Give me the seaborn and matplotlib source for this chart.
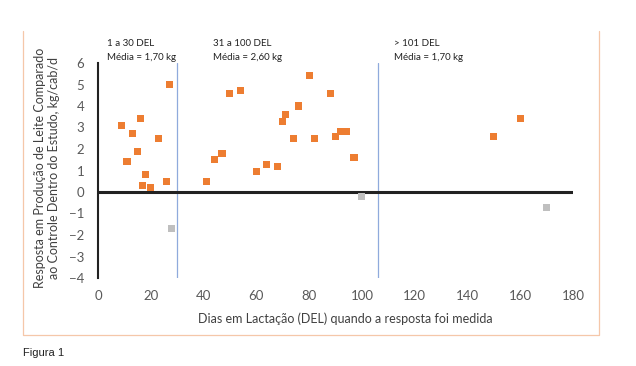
import pandas as pd
import numpy as np
import matplotlib.pyplot as plt
import seaborn as sns
from matplotlib.lines import Line2D

# days in lactation (DEL) and response, kg/cow/day
del_pos = [9, 11, 13, 15, 16, 17, 18, 20, 23, 26, 27,
           41, 44, 47, 50, 54, 60, 64, 68, 70, 71, 74, 76, 80, 82, 88, 90, 92, 94, 97,
           150, 160]
resp_pos = [3.1, 1.4, 2.7, 1.9, 3.4, 0.3, 0.8, 0.2, 2.5, 0.5, 5.0,
            0.5, 1.5, 1.8, 4.6, 4.7, 0.95, 1.3, 1.2, 3.3, 3.6, 2.5, 4.0, 5.4, 2.5, 4.6, 2.6, 2.8, 2.8, 1.6,
            2.6, 3.4]
del_neg = [28, 100, 170]
resp_neg = [-1.7, -0.2, -0.7]

limits = [30, 106]
notes = [("1 a 30 DEL", "Média = 1,70 kg"),
         ("31 a 100 DEL", "Média = 2,60 kg"),
         ("> 101 DEL", "Média = 1,70 kg")]
note_x = [3.3, 43.4, 112]

df = pd.DataFrame({
    "del": del_pos + del_neg,
    "resp": resp_pos + resp_neg,
    "grupo": ["pos"] * len(del_pos) + ["neg"] * len(del_neg),
})

sns.set_style("white")
plt.rcParams["font.family"] = ["Lato", "DejaVu Sans"]

fig = plt.figure(figsize=(6.36, 3.66), dpi=100)
ax = fig.add_axes([98 / 636, 1 - 278 / 366, 475 / 636, 215 / 366])

for x in limits:
    ax.plot([x, x], [-4, 6], color="#8FAADC", lw=0.9, zorder=1)
ax.axhline(0, color="#222222", lw=2.2, zorder=2)

sns.scatterplot(data=df, x="del", y="resp", hue="grupo",
                palette={"pos": "#ED7D31", "neg": "#BFBFBF"},
                marker="s", s=26, edgecolor="none", legend=False, ax=ax, zorder=3)

ax.set_xlim(0, 180)
ax.set_ylim(-4, 6)
ax.set_xticks(np.arange(0, 181, 20))
ax.set_yticks(np.arange(-4, 7, 1))
for s in ["top", "right", "bottom"]:
    ax.spines[s].set_visible(False)
ax.spines["left"].set_color("#222222")
ax.spines["left"].set_linewidth(1.5)
ax.tick_params(axis="x", length=0, pad=9, labelsize=9.5, labelcolor="#595959")
ax.tick_params(axis="y", length=0, pad=10, labelsize=9.5, labelcolor="#595959")
ax.set_xlabel("")
ax.set_ylabel("")

fig.text(345 / 636, 1 - 319 / 366, "Dias em Lactação (DEL) quando a resposta foi medida",
         ha="center", va="center", fontsize=9, color="#404040")
fig.text(47 / 636, 1 - 168 / 366,
         "Resposta em Produção de Leite Comparado\nao Controle Dentro do Estudo, kg/cab/d",
         ha="center", va="center", rotation=90, fontsize=9, color="#404040",
         linespacing=1.15)

for (l1, l2), x in zip(notes, note_x):
    ax.text(x, 6.92, l1, fontsize=7, color="#222222", va="center", clip_on=False)
    ax.text(x, 6.27, l2, fontsize=7, color="#222222", va="center", clip_on=False)

# chart frame (top edge cropped off in the original)
fx = [23 / 636, 23 / 636, 599 / 636, 599 / 636]
fy = [1 - 31 / 366, 1 - 335 / 366, 1 - 335 / 366, 1 - 31 / 366]
fig.lines.append(Line2D(fx, fy, transform=fig.transFigure, color="#F5C7A9", lw=0.9))

fig.text(23 / 636, 1 - 353 / 366, "Figura 1", fontsize=8, va="center",
         family=["Liberation Sans"], color="#222222")

fig.savefig("out.png", dpi=100)
